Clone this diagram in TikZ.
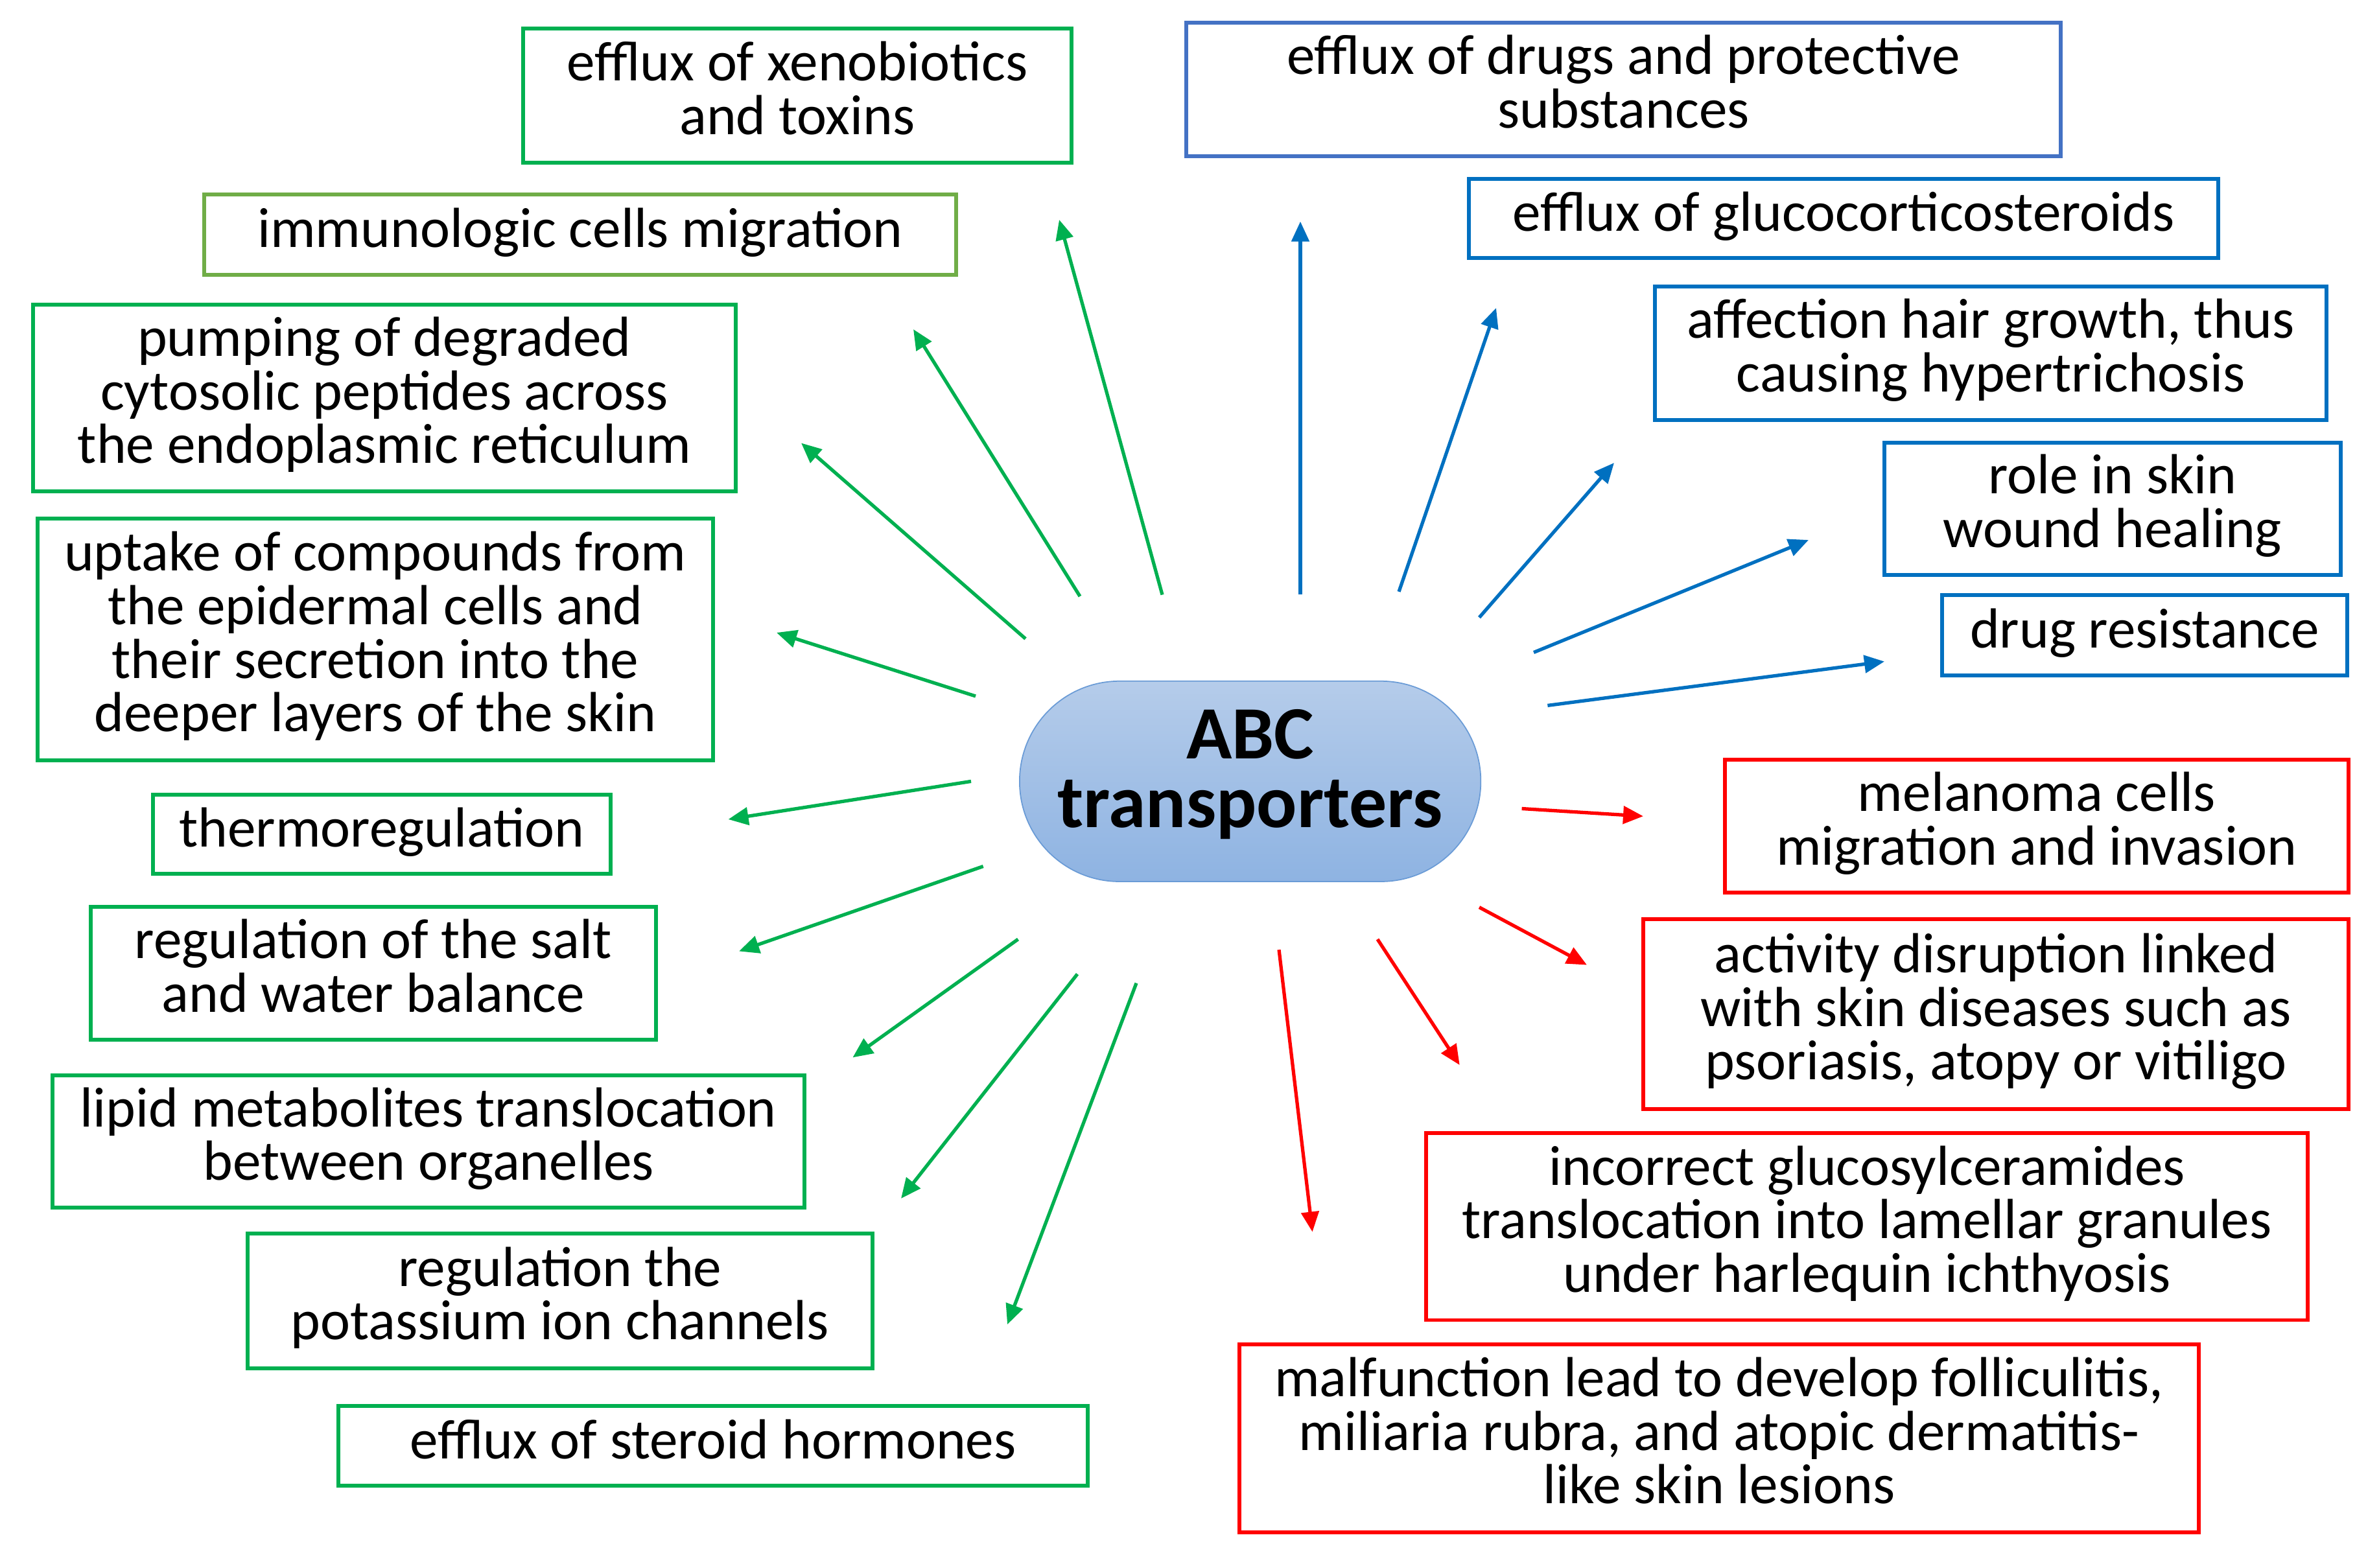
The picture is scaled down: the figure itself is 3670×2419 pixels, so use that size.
\documentclass[tikz,border=0pt]{standalone}
\usepackage{fontspec}
\setmainfont{Carlito}
\usetikzlibrary{arrows.meta}
\definecolor{cgreen}{HTML}{00B050}
\definecolor{clgreen}{HTML}{70AD47}
\definecolor{cblue}{HTML}{0070C0}
\definecolor{cblueb}{HTML}{4472C4}
\definecolor{cred}{HTML}{FF0000}
\definecolor{abctop}{HTML}{B5CCEA}
\definecolor{abcbot}{HTML}{8EB3E2}
\definecolor{abcline}{HTML}{6A9BD6}
\tikzset{
  tbox/.style={draw, line width=1.7pt, fill=white, align=center, inner sep=0pt,
    font=\fontsize{24.8}{23.5}\selectfont,
    execute at begin node={\rule{0pt}{18pt}},
    execute at end node={\rule[-6.8pt]{0pt}{6.8pt}}},
  gbox/.style={tbox, draw=cgreen},
  lgbox/.style={tbox, draw=clgreen},
  bbox/.style={tbox, draw=cblue},
  bbbox/.style={tbox, draw=cblueb},
  rbox/.style={tbox, draw=cred},
  arr/.style={line width=1.5pt, -{Triangle[length=0.31cm, width=0.27cm]}},
  garrow/.style={arr, draw=cgreen, fill=cgreen},
  barrow/.style={arr, draw=cblue, fill=cblue},
  rarrow/.style={arr, draw=cred, fill=cred},
  abc/.style={draw=abcline, line width=0.5pt, top color=abctop, bottom color=abcbot,
    align=center, inner sep=0pt, font=\fontsize{33}{30}\selectfont\bfseries,
    execute at begin node={\rule{0pt}{22pt}},
    execute at end node={\rule[-11.4pt]{0pt}{11.4pt}}}
}
\begin{document}
\begin{tikzpicture}[x=0.01cm, y=-0.01cm]
\useasboundingbox (0,0) rectangle (3670,2419);
% centre
\node[abc, minimum width=7.11cm, minimum height=3.09cm, rounded corners=1.54cm] (abc) at (1928.6,1205.4) {ABC\\transporters};
% green boxes
\node[gbox, minimum width=8.45cm, minimum height=2.06cm] (g1) at (1230,147.5) {efflux of xenobiotics\\and toxins};
\node[lgbox, minimum width=11.59cm, minimum height=1.24cm] (g2) at (895,361.6) {immunologic cells migration};
\node[gbox, minimum width=10.84cm, minimum height=2.88cm] (g3) at (593,614) {pumping of degraded\\cytosolic peptides across\\the endoplasmic reticulum};
\node[gbox, minimum width=10.42cm, minimum height=3.72cm] (g4) at (579,986.5) {uptake of compounds from\\the epidermal cells and\\their secretion into the\\deeper layers of the skin};
\node[gbox, minimum width=7.05cm, minimum height=1.22cm] (g5) at (589,1287) {thermoregulation};
\node[gbox, minimum width=8.71cm, minimum height=2.04cm] (g6) at (576,1501.5) {regulation of the salt\\and water balance};
\node[gbox, minimum width=11.59cm, minimum height=2.04cm] (g7) at (661,1761) {lipid metabolites translocation\\between organelles};
\node[gbox, minimum width=9.64cm, minimum height=2.08cm] (g8) at (864,2007) {regulation the\\potassium ion channels};
\node[gbox, minimum width=11.56cm, minimum height=1.22cm] (g9) at (1100,2230.5) {efflux of steroid hormones};
% blue boxes
\node[bbbox, minimum width=13.48cm, minimum height=2.06cm] (b1) at (2504.4,138) {efflux of drugs and protective\\substances};
\node[bbox, minimum width=11.56cm, minimum height=1.21cm] (b2) at (2844,337) {efflux of glucocorticosteroids};
\node[bbox, minimum width=10.35cm, minimum height=2.06cm] (b3) at (3071,545) {affection hair growth, thus\\causing hypertrichosis};
\node[bbox, minimum width=7.04cm, minimum height=2.04cm] (b4) at (3259,785) {role in skin\\wound healing};
\node[bbox, minimum width=6.25cm, minimum height=1.23cm] (b5) at (3308.5,980) {drug resistance};
% red boxes
\node[rbox, minimum width=9.62cm, minimum height=2.04cm] (r1) at (3142,1274.5) {melanoma cells\\migration and invasion};
\node[rbox, minimum width=10.88cm, minimum height=2.93cm] (r2) at (3079,1564.7) {activity disruption linked\\with skin diseases such as\\psoriasis, atopy or vitiligo};
\node[rbox, minimum width=13.6cm, minimum height=2.88cm] (r3) at (2880,1892.4) {incorrect glucosylceramides\\translocation into lamellar granules\\under harlequin ichthyosis};
\node[rbox, minimum width=14.8cm, minimum height=2.9cm] (r4) at (2652,2219) {malfunction lead to develop folliculitis,\\miliaria rubra, and atopic dermatitis-\\like skin lesions};
% arrow end points
\coordinate (a1s) at (1793,917.5);   \coordinate (a1e) at (1634,339);
\coordinate (a2s) at (1666,920);     \coordinate (a2e) at (1409,508);
\coordinate (a3s) at (1582,985.4);   \coordinate (a3e) at (1236,683.5);
\coordinate (a4s) at (1505,1074);    \coordinate (a4e) at (1198,976);
\coordinate (a5s) at (1498,1205.4);  \coordinate (a5e) at (1123.5,1264);
\coordinate (a6s) at (1516.7,1336.5);\coordinate (a6e) at (1140,1467.5);
\coordinate (a7s) at (1570.5,1449);  \coordinate (a7e) at (1315.4,1631.4);
\coordinate (a8s) at (1662,1502.7);  \coordinate (a8e) at (1390,1849);
\coordinate (a9s) at (1753,1516.7);  \coordinate (a9e) at (1554,2043.3);
\coordinate (b1s) at (2006,917.5);   \coordinate (b1e) at (2006,341.7);
\coordinate (b2s) at (2158,912.8);   \coordinate (b2e) at (2308,475);
\coordinate (b3s) at (2282,952.6);   \coordinate (b3e) at (2490,714);
\coordinate (b4s) at (2366,1006.5);  \coordinate (b4e) at (2790,833);
\coordinate (b5s) at (2387.4,1088.4);\coordinate (b5e) at (2907,1020.5);
\coordinate (r1s) at (2347.6,1247.5);\coordinate (r1e) at (2535,1259.2);
\coordinate (r2s) at (2282,1399.7);  \coordinate (r2e) at (2448,1488.6);
\coordinate (r3s) at (2125,1449);    \coordinate (r3e) at (2251.7,1643);
\coordinate (r4s) at (1973,1465.2);  \coordinate (r4e) at (2024.6,1900.5);
% arrows
\foreach \i in {1,...,9} {\draw[garrow] (a\i s) -- (a\i e);}
\foreach \i in {1,...,5} {\draw[barrow] (b\i s) -- (b\i e);}
\foreach \i in {1,...,4} {\draw[rarrow] (r\i s) -- (r\i e);}
\end{tikzpicture}
\end{document}
